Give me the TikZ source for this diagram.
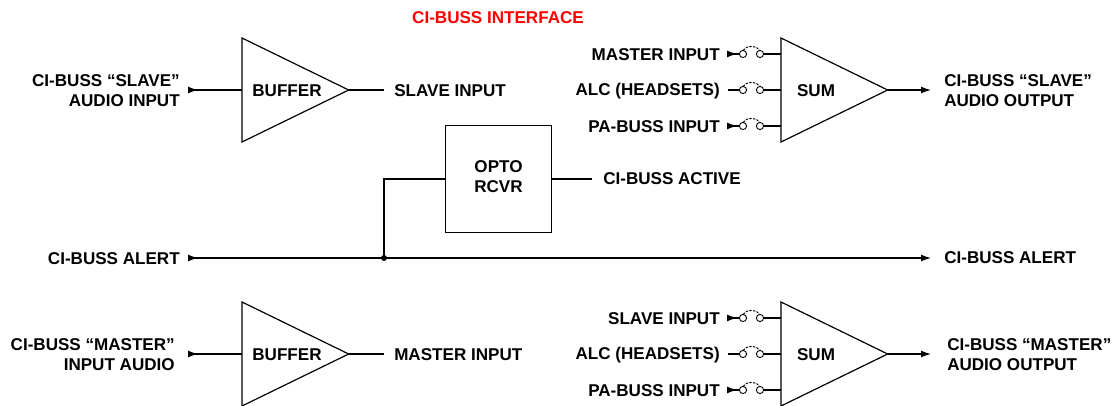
\documentclass[tikz,border=0pt]{standalone}
\usepackage{fontspec}
\setmainfont{Liberation Sans}
\usetikzlibrary{arrows.meta,shapes.geometric}

\begin{document}
\begin{tikzpicture}[
x=0.75pt,y=-0.75pt,
>={Latex[length=7.5pt,width=5.2pt]},
line/.style={draw,line width=0.9pt},
txt/.style={font=\bfseries\fontsize{12.8}{15}\selectfont,inner sep=0pt,align=center},
txtl/.style={txt,anchor=west,align=left},
txtr/.style={txt,anchor=east,align=right},
amp/.style={draw,line width=0.9pt,isosceles triangle,isosceles triangle stretches,
	minimum width=78pt,minimum height=80pt,inner sep=0pt,outer sep=0pt,anchor=lower side},
box/.style={draw,line width=0.9pt,minimum width=80pt,minimum height=80pt,inner sep=0pt,outer sep=0pt},
cont/.style={draw,circle,line width=0.7pt,minimum size=5.4pt,inner sep=0pt,outer sep=0pt},
lever/.style={draw,line width=0.75pt,dash pattern=on 1.8pt off 1pt},
joint/.style={fill,circle,minimum size=4.5pt,inner sep=0pt},
]
\useasboundingbox (0,0) rectangle (1114,406);

\node[txt,text=red] (title) at (498,18) {CI-BUSS INTERFACE};

%amplifiers
\node[amp] (buf1) at (242,90) {};
\node[amp] (sum1) at (781,90) {};
\node[amp] (buf2) at (242,354) {};
\node[amp] (sum2) at (781,354) {};
\node[txt] (buf1t) at (287,91) {BUFFER};
\node[txt] (sum1t) at (816,91) {SUM};
\node[txt] (buf2t) at (287,355) {BUFFER};
\node[txt] (sum2t) at (816,355) {SUM};

%opto receiver
\node[box] (opto) at (498.5,179) {};
\node[txt] (optot) at (498.5,177) {OPTO\\RCVR};

%left labels
\node[txtr] (sin) at (180,91) {CI-BUSS ``SLAVE''\\AUDIO INPUT};
\node[txtr] (alin) at (180,259) {CI-BUSS ALERT};
\node[txtr] (min) at (175,355) {CI-BUSS ``MASTER''\\INPUT AUDIO};

\coordinate (sinc) at (188,90);
\coordinate (alinc) at (188,258);
\coordinate (minc) at (188,354);

%right labels
\node[txtl] (sl1) at (394,91) {SLAVE INPUT};
\node[txtl] (act) at (603,179) {CI-BUSS ACTIVE};
\node[txtl] (ml1) at (394,355) {MASTER INPUT};
\node[txtl] (sout) at (944,91) {CI-BUSS ``SLAVE''\\AUDIO OUTPUT};
\node[txtl] (alout) at (944,258) {CI-BUSS ALERT};
\node[txtl] (mout) at (947,355) {CI-BUSS ``MASTER''\\AUDIO OUTPUT};

\coordinate (sl1c) at (384,90);
\coordinate (actc) at (592,179);
\coordinate (ml1c) at (384,354);
\coordinate (soutc) at (931,90);
\coordinate (aloutc) at (931,258);
\coordinate (moutc) at (931,354);
\coordinate (jn) at (384,179);
\node[joint] (dot) at (384,258) {};

\path[line,>-] (sinc) -- (buf1.lower side);
\path[line,>-] (minc) -- (buf2.lower side);
\path[line] (buf1.apex) -- (sl1c);
\path[line] (buf2.apex) -- (ml1c);
\path[line,->] (sum1.apex) -- (soutc);
\path[line,->] (sum2.apex) -- (moutc);
\path[line] (opto.east) -- (actc);
\path[line] (opto.west) -- (jn) -- (dot);
\path[line,>->] (alinc) -- (aloutc);

%top switches
\node[txtr] (t1) at (720,55) {MASTER INPUT};
\node[txtr] (t2) at (720,91) {ALC (HEADSETS)};
\node[txtr] (t3) at (720,127) {PA-BUSS INPUT};
\coordinate (t1c) at (727,54);
\coordinate (t2c) at (728,90);
\coordinate (t3c) at (727,126);
\node[cont] (t1a) at (743,54) {};
\node[cont] (t1b) at (760,54) {};
\node[cont] (t2a) at (743,90) {};
\node[cont] (t2b) at (760,90) {};
\node[cont] (t3a) at (743,126) {};
\node[cont] (t3b) at (760,126) {};
\path[line,>-] (t1c) -- (t1a);
\path[line] (t2c) -- (t2a);
\path[line,>-] (t3c) -- (t3a);
\path[line] (t1b) -- (t1b -| sum1.lower side);
\path[line] (t2b) -- (t2b -| sum1.lower side);
\path[line] (t3b) -- (t3b -| sum1.lower side);
\path[lever] (t1a.north) to[bend left=55] (t1b.north);
\path[lever] (t2a.north) to[bend left=55] (t2b.north);
\path[lever] (t3a.north) to[bend left=55] (t3b.north);

%bottom switches
\node[txtr] (b1) at (720,319) {SLAVE INPUT};
\node[txtr] (b2) at (720,355) {ALC (HEADSETS)};
\node[txtr] (b3) at (720,391) {PA-BUSS INPUT};
\coordinate (b1c) at (727,318);
\coordinate (b2c) at (728,354);
\coordinate (b3c) at (727,390);
\node[cont] (b1a) at (743,318) {};
\node[cont] (b1b) at (760,318) {};
\node[cont] (b2a) at (743,354) {};
\node[cont] (b2b) at (760,354) {};
\node[cont] (b3a) at (743,390) {};
\node[cont] (b3b) at (760,390) {};
\path[line,>-] (b1c) -- (b1a);
\path[line] (b2c) -- (b2a);
\path[line,>-] (b3c) -- (b3a);
\path[line] (b1b) -- (b1b -| sum2.lower side);
\path[line] (b2b) -- (b2b -| sum2.lower side);
\path[line] (b3b) -- (b3b -| sum2.lower side);
\path[lever] (b1a.north) to[bend left=55] (b1b.north);
\path[lever] (b2a.north) to[bend left=55] (b2b.north);
\path[lever] (b3a.north) to[bend left=55] (b3b.north);

\end{tikzpicture}
\end{document}
